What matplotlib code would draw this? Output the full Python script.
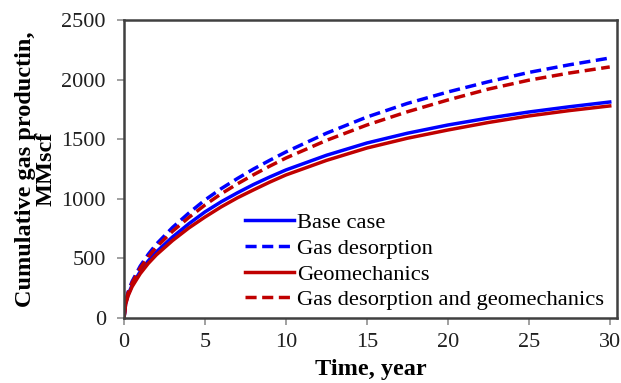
import numpy as np
import matplotlib
matplotlib.use("Agg")
import matplotlib.pyplot as plt

plt.rcParams['font.family'] = ['Liberation Serif', 'DejaVu Serif']

# time, years
t = [0, 0.1, 0.25, 0.5, 1, 1.5, 2, 3, 4, 5, 6, 7, 8, 9, 10,
     12.5, 15, 17.5, 20, 22.5, 25, 27.5, 30]
# cumulative gas production, MMscf
base_case = [0, 120, 195, 275, 390, 480, 555, 680, 790, 890, 975, 1050, 1120, 1183, 1242,
             1365, 1468, 1550, 1619, 1677, 1728, 1772, 1812]
gas_desorption = [0, 135, 218, 307, 435, 535, 620, 760, 880, 990, 1085, 1170, 1250, 1323, 1393,
                  1550, 1686, 1800, 1896, 1982, 2060, 2124, 2181]
geomechanics = [0, 115, 185, 263, 372, 458, 530, 650, 755, 847, 932, 1008, 1075, 1140, 1200,
                1322, 1426, 1508, 1577, 1640, 1695, 1740, 1779]
desorption_geomech = [0, 130, 210, 295, 418, 513, 595, 728, 843, 948, 1042, 1125, 1202, 1274, 1342,
                      1490, 1619, 1730, 1829, 1920, 1995, 2055, 2106]

labels = ['Base case', 'Gas desorption', 'Geomechanics',
          'Gas desorption and geomechanics']

blue = '#0000FF'
red = '#C00000'
dash = (0, (3.2, 1.6))

fig = plt.figure(figsize=(6.21, 3.83), dpi=100)
ax = fig.add_axes([0.1997, 0.1697, 0.7939, 0.7781])

lw = 2.5
ax.plot(t, base_case, color=blue, lw=lw, label=labels[0])
ax.plot(t, gas_desorption, color=blue, lw=lw, ls=dash, label=labels[1])
ax.plot(t, geomechanics, color=red, lw=lw, label=labels[2])
ax.plot(t, desorption_geomech, color=red, lw=lw, ls=dash, label=labels[3])

ax.set_xlim(0, 30.45)
ax.set_ylim(0, 2500)
ax.set_xticks([0, 5, 10, 15, 20, 25, 30])
ax.set_yticks([0, 500, 1000, 1500, 2000, 2500])

for s in ax.spines.values():
    s.set_color('#404040')
    s.set_linewidth(1.8)
ax.tick_params(direction='out', length=5, width=1.2, color='#909090',
               labelsize=16, labelcolor='#202020')
ax.tick_params(axis='y', pad=8)
ax.tick_params(axis='x', pad=6)

ax.set_xlabel('Time, year', fontsize=17.5, fontweight='bold', labelpad=5)
ax.set_ylabel('Cumulative gas productin,\nMMscf', fontsize=17.5,
              fontweight='bold', linespacing=1.0)
ax.yaxis.set_label_coords(-0.136, 0.5)

ax.legend(loc='lower right', bbox_to_anchor=(0.996, -0.012), frameon=False,
          fontsize=16.2, handlelength=2.2, handletextpad=0.1,
          labelspacing=0.22, borderaxespad=0.1)

fig.savefig('out.png', dpi=100)
